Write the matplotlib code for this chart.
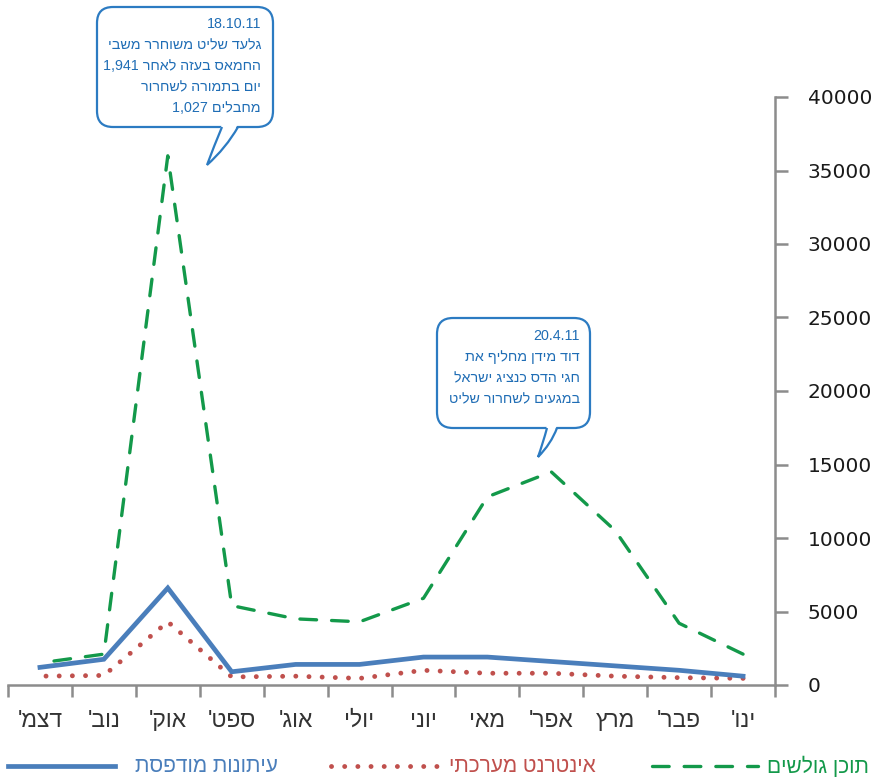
import matplotlib
matplotlib.use("Agg")
import matplotlib.pyplot as plt
from matplotlib.lines import Line2D
from matplotlib.patches import FancyBboxPatch, PathPatch
from matplotlib.path import Path
from matplotlib.transforms import Affine2D
import numpy as np

# data, ordered Jan..Dec 2011 (axis is drawn right-to-left)
months = ["ינו'", "פבר'", "מרץ", "אפר'", "מאי", "יוני", "יולי", "אוג'", "ספט'", "אוק'", "נוב'", "דצמ'"]
user_content = [2100, 4200, 10500, 14500, 12800, 5900, 4300, 4500, 5400, 36000, 2100, 1500]
online_news = [450, 500, 600, 800, 800, 1000, 450, 600, 550, 4300, 650, 600]
print_press = [600, 1000, 1300, 1600, 1900, 1900, 1400, 1400, 900, 6600, 1750, 1200]
series_names = ["תוכן גולשים", "אינטרנט מערכתי", "עיתונות מודפסת"]
yticks = [0, 5000, 10000, 15000, 20000, 25000, 30000, 35000, 40000]

GREEN = "#13994A"
RED = "#C0504D"
BLUE = "#4A7EBB"
CALLOUT = "#2C7BC2"
AXIS = "#8C8C8C"
HEB = ["Liberation Sans", "DejaVu Sans"]


def vis(s):
    # matplotlib has no bidi support: lay hebrew out in visual order
    return s[::-1]


W, H = 880, 778
fig = plt.figure(figsize=(W / 100, H / 100), dpi=100)
ax = fig.add_axes([8 / W, 1 - 685 / H, (775 - 8) / W, (685 - 97) / H])

# pixel coords measured from the top-left corner of the figure
px = Affine2D().scale(1 / 100, -1 / 100).translate(0, H / 100) + fig.dpi_scale_trans

styles = [
    dict(color=GREEN, lw=2.4, ls=(0, (5, 4.5)), dash_capstyle="round"),
    dict(color=RED, lw=3.5, ls=(0, (0.01, 2.7)), dash_capstyle="round"),
    dict(color=BLUE, lw=3.4, solid_joinstyle="miter"),
]

x = np.arange(len(months))
for values, style in zip([user_content, online_news, print_press], styles):
    ax.plot(x, values, **style)

ax.set_xlim(-0.5, len(months) - 0.5)
ax.invert_xaxis()
ax.set_ylim(0, 40000)

for side in ["left", "top"]:
    ax.spines[side].set_visible(False)
for side in ["right", "bottom"]:
    ax.spines[side].set_color(AXIS)
    ax.spines[side].set_linewidth(1.8)

ax.yaxis.tick_right()
ax.set_yticks(yticks)
ax.set_yticklabels([str(v) for v in yticks], family="DejaVu Sans", fontsize=14.5,
                   color="#1A1A1A", ha="left")
ax.tick_params(axis="y", direction="out", length=9.5, width=1.8, color=AXIS, pad=14)

ax.set_xticks(np.arange(len(months) + 1) - 0.5)
ax.set_xticklabels([])
ax.tick_params(axis="x", which="major", direction="out", length=8.5, width=1.8, color=AXIS)
ax.set_xticks(x, minor=True)
ax.set_xticklabels([vis(m) for m in months], minor=True, family=HEB,
                   fontsize=16.5, color="#333333")
ax.tick_params(axis="x", which="minor", length=0, pad=17)


def callout(box, tail, lines, right, tops):
    x0, y0, x1, y1 = box
    fig.add_artist(FancyBboxPatch((x0, y0), x1 - x0, y1 - y0,
                                  boxstyle="round,pad=0,rounding_size=16",
                                  transform=px, facecolor="white",
                                  edgecolor=CALLOUT, lw=1.6, zorder=5))
    (bl, c1, tip, c2, br) = tail
    codes = [Path.MOVETO, Path.CURVE3, Path.CURVE3, Path.CURVE3, Path.CURVE3]
    fill = [(bl[0], bl[1] - 3), c1, tip, c2, (br[0], br[1] - 3)]
    fig.add_artist(PathPatch(Path(fill, codes), transform=px, facecolor="white",
                             edgecolor="none", zorder=6))
    fig.add_artist(PathPatch(Path([bl, c1, tip, c2, br], codes), transform=px,
                             fill=False, edgecolor=CALLOUT, lw=1.6, zorder=7))
    for line, y in zip(lines, tops):
        fig.text(right, y, line, transform=px, ha="right", va="center",
                 family=HEB, fontsize=10.3, color="#1F6DB5", zorder=8)


callout((97, 7, 273, 127),
        ((222, 127), (214, 146), (207, 165), (226, 148), (238, 127)),
        ["18.10.11",
         vis("גלעד שליט משוחרר משבי"),
         "1,941 " + vis("החמאס בעזה לאחר"),
         vis("יום בתמורה לשחרור"),
         "1,027 " + vis("מחבלים")],
        261, [24, 45, 66, 87, 108])

callout((437, 318, 590, 428),
        ((547, 428), (543, 443), (538, 457), (551, 444), (557, 428)),
        ["20.4.11",
         vis("דוד מידן מחליף את"),
         vis("חגי הדס כנציג ישראל"),
         vis("במגעים לשחרור שליט")],
        580, [336, 357, 378, 399])

# legend laid out right-to-left: sample line, then its label to the right
legend_slots = [(652, 758, 767), (331, 438, 449), (8, 115, 135)]
legend_y = 766
for name, style, (l0, l1, tx) in zip(series_names, styles, legend_slots):
    fig.add_artist(Line2D([l0, l1], [legend_y, legend_y], transform=px, **style))
    fig.text(tx, legend_y, vis(name), transform=px, ha="left", va="center",
             family=HEB, fontsize=15, color=style["color"])

fig.savefig("out.png", dpi=100)
